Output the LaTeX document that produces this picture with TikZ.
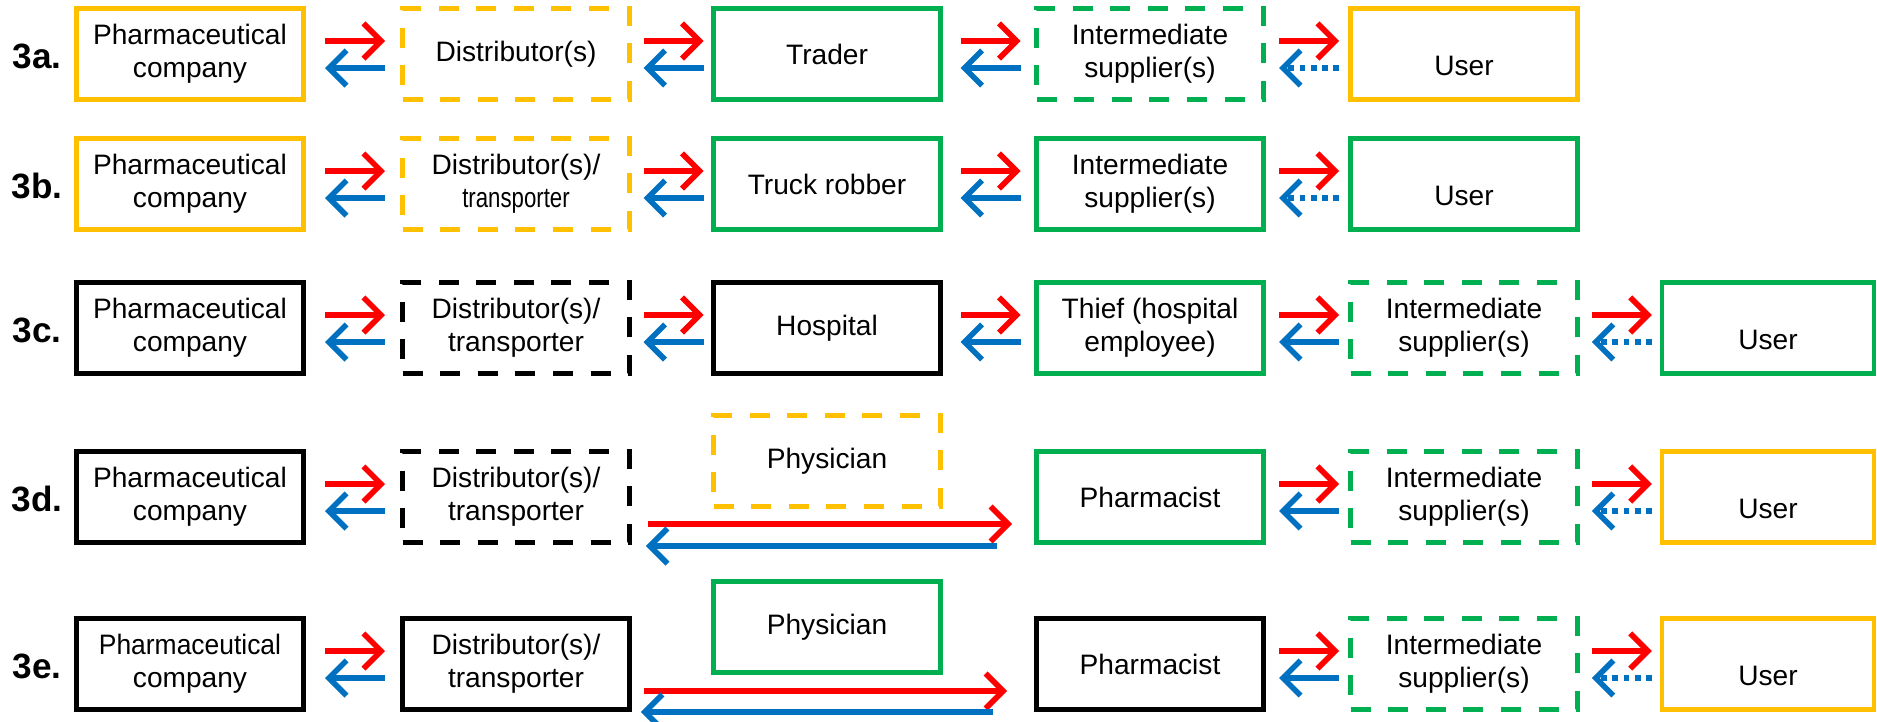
\documentclass[tikz,border=0pt]{standalone}
\usepackage{fontspec}
\setmainfont{Liberation Sans}
\usetikzlibrary{arrows.meta,calc}

\definecolor{boxyellow}{HTML}{FFC000}
\definecolor{boxgreen}{HTML}{00B050}
\definecolor{arrred}{HTML}{FF0000}
\definecolor{arrblue}{HTML}{0070C0}

\begin{document}
\begin{tikzpicture}[>={Straight Barb[length=5pt,width=10pt]},
    box/.style={draw, line width=1.35pt, minimum width=2.27cm, minimum height=0.91cm,
        inner sep=1pt, align=center, font=\fontsize{8}{9.5}\selectfont},
    dbox/.style={box, dash pattern=on 5.7pt off 5pt},
    yel/.style={draw=boxyellow}, grn/.style={draw=boxgreen},
    lowtext/.style={text height=12pt, text depth=0pt},
    rowlabel/.style={font=\fontsize{10}{12}\selectfont\bfseries},
    fwd/.style={->, arrred, line width=1.6pt},
    bwd/.style={->, arrblue, line width=1.6pt},
    bwddot/.style={bwd, dash pattern=on 1.6pt off 1.6pt}]
    \useasboundingbox (0,0) rectangle (18.77,-7.21);

    % 3a
    \node[rowlabel] (la) at (0.37,-0.56) {3a.};
    \node[box, yel] (a1) at (1.90,-0.54) {Pharmaceutical\\company};
    \node[dbox, yel] (a2) at (5.16,-0.54) {Distributor(s)};
    \node[box, grn] (a3) at (8.27,-0.54) {Trader};
    \node[dbox, grn] (a4) at (11.50,-0.54) {Intermediate\\supplier(s)};
    \node[box, yel, lowtext] (a5) at (14.64,-0.54) {User};
    \draw[fwd] ($(a1.east)!.5!(a2.west)+(-.28,.13)$) -- +(.6,0);
    \draw[bwd] ($(a1.east)!.5!(a2.west)+(.32,-.14)$) -- +(-.6,0);
    \draw[fwd] ($(a2.east)!.5!(a3.west)+(-.28,.13)$) -- +(.6,0);
    \draw[bwd] ($(a2.east)!.5!(a3.west)+(.32,-.14)$) -- +(-.6,0);
    \draw[fwd] ($(a3.east)!.5!(a4.west)+(-.28,.13)$) -- +(.6,0);
    \draw[bwd] ($(a3.east)!.5!(a4.west)+(.32,-.14)$) -- +(-.6,0);
    \draw[fwd] ($(a4.east)!.5!(a5.west)+(-.28,.13)$) -- +(.6,0);
    \draw[bwddot] ($(a4.east)!.5!(a5.west)+(.32,-.14)$) -- +(-.6,0);

    % 3b
    \node[rowlabel] (lb) at (0.37,-1.86) {3b.};
    \node[box, yel] (b1) at (1.90,-1.84) {Pharmaceutical\\company};
    \node[dbox, yel] (b2) at (5.16,-1.84) {Distributor(s)/\\\scalebox{0.79}[1]{transporter}};
    \node[box, grn] (b3) at (8.27,-1.84) {Truck robber};
    \node[box, grn] (b4) at (11.50,-1.84) {Intermediate\\supplier(s)};
    \node[box, grn, lowtext] (b5) at (14.64,-1.84) {User};
    \draw[fwd] ($(b1.east)!.5!(b2.west)+(-.28,.13)$) -- +(.6,0);
    \draw[bwd] ($(b1.east)!.5!(b2.west)+(.32,-.14)$) -- +(-.6,0);
    \draw[fwd] ($(b2.east)!.5!(b3.west)+(-.28,.13)$) -- +(.6,0);
    \draw[bwd] ($(b2.east)!.5!(b3.west)+(.32,-.14)$) -- +(-.6,0);
    \draw[fwd] ($(b3.east)!.5!(b4.west)+(-.28,.13)$) -- +(.6,0);
    \draw[bwd] ($(b3.east)!.5!(b4.west)+(.32,-.14)$) -- +(-.6,0);
    \draw[fwd] ($(b4.east)!.5!(b5.west)+(-.28,.13)$) -- +(.6,0);
    \draw[bwddot] ($(b4.east)!.5!(b5.west)+(.32,-.14)$) -- +(-.6,0);

    % 3c
    \node[rowlabel] (lc) at (0.37,-3.30) {3c.};
    \node[box] (c1) at (1.90,-3.28) {Pharmaceutical\\company};
    \node[dbox] (c2) at (5.16,-3.28) {Distributor(s)/\\transporter};
    \node[box] (c3) at (8.27,-3.28) {Hospital};
    \node[box, grn] (c4) at (11.50,-3.28) {Thief (hospital\\employee)};
    \node[dbox, grn] (c5) at (14.64,-3.28) {Intermediate\\supplier(s)};
    \node[box, grn, lowtext, minimum width=2.12cm] (c6) at (17.68,-3.28) {User};
    \draw[fwd] ($(c1.east)!.5!(c2.west)+(-.28,.13)$) -- +(.6,0);
    \draw[bwd] ($(c1.east)!.5!(c2.west)+(.32,-.14)$) -- +(-.6,0);
    \draw[fwd] ($(c2.east)!.5!(c3.west)+(-.28,.13)$) -- +(.6,0);
    \draw[bwd] ($(c2.east)!.5!(c3.west)+(.32,-.14)$) -- +(-.6,0);
    \draw[fwd] ($(c3.east)!.5!(c4.west)+(-.28,.13)$) -- +(.6,0);
    \draw[bwd] ($(c3.east)!.5!(c4.west)+(.32,-.14)$) -- +(-.6,0);
    \draw[fwd] ($(c4.east)!.5!(c5.west)+(-.28,.13)$) -- +(.6,0);
    \draw[bwd] ($(c4.east)!.5!(c5.west)+(.32,-.14)$) -- +(-.6,0);
    \draw[fwd] ($(c5.east)!.5!(c6.west)+(-.28,.13)$) -- +(.6,0);
    \draw[bwddot] ($(c5.east)!.5!(c6.west)+(.32,-.14)$) -- +(-.6,0);

    % 3d
    \node[rowlabel] (ld) at (0.37,-4.99) {3d.};
    \node[box] (d1) at (1.90,-4.97) {Pharmaceutical\\company};
    \node[dbox] (d2) at (5.16,-4.97) {Distributor(s)/\\transporter};
    \node[dbox, yel] (d3) at (8.27,-4.61) {Physician};
    \node[box, grn] (d4) at (11.50,-4.97) {Pharmacist};
    \node[dbox, grn] (d5) at (14.64,-4.97) {Intermediate\\supplier(s)};
    \node[box, yel, lowtext, minimum width=2.12cm] (d6) at (17.68,-4.97) {User};
    \draw[fwd] ($(d1.east)!.5!(d2.west)+(-.28,.13)$) -- +(.6,0);
    \draw[bwd] ($(d1.east)!.5!(d2.west)+(.32,-.14)$) -- +(-.6,0);
    \draw[fwd] ([shift={(.16,-.27)}]d2.east) -- ([shift={(-.22,-.27)}]d4.west);
    \draw[bwd] ([shift={(-.37,-.49)}]d4.west) -- ([shift={(.14,-.49)}]d2.east);
    \draw[fwd] ($(d4.east)!.5!(d5.west)+(-.28,.13)$) -- +(.6,0);
    \draw[bwd] ($(d4.east)!.5!(d5.west)+(.32,-.14)$) -- +(-.6,0);
    \draw[fwd] ($(d5.east)!.5!(d6.west)+(-.28,.13)$) -- +(.6,0);
    \draw[bwddot] ($(d5.east)!.5!(d6.west)+(.32,-.14)$) -- +(-.6,0);

    % 3e
    \node[rowlabel] (le) at (0.37,-6.66) {3e.};
    \node[box] (e1) at (1.90,-6.64) {\scalebox{0.94}[1]{Pharmaceutical}\\company};
    \node[box] (e2) at (5.16,-6.64) {Distributor(s)/\\transporter};
    \node[box, grn] (e3) at (8.27,-6.27) {Physician};
    \node[box] (e4) at (11.50,-6.64) {Pharmacist};
    \node[dbox, grn] (e5) at (14.64,-6.64) {Intermediate\\supplier(s)};
    \node[box, yel, lowtext, minimum width=2.12cm] (e6) at (17.68,-6.64) {User};
    \draw[fwd] ($(e1.east)!.5!(e2.west)+(-.28,.13)$) -- +(.6,0);
    \draw[bwd] ($(e1.east)!.5!(e2.west)+(.32,-.14)$) -- +(-.6,0);
    \draw[fwd] ([shift={(.12,-.27)}]e2.east) -- ([shift={(-.27,-.27)}]e4.west);
    \draw[bwd] ([shift={(-.41,-.48)}]e4.west) -- ([shift={(.09,-.48)}]e2.east);
    \draw[fwd] ($(e4.east)!.5!(e5.west)+(-.28,.13)$) -- +(.6,0);
    \draw[bwd] ($(e4.east)!.5!(e5.west)+(.32,-.14)$) -- +(-.6,0);
    \draw[fwd] ($(e5.east)!.5!(e6.west)+(-.28,.13)$) -- +(.6,0);
    \draw[bwddot] ($(e5.east)!.5!(e6.west)+(.32,-.14)$) -- +(-.6,0);
\end{tikzpicture}
\end{document}
